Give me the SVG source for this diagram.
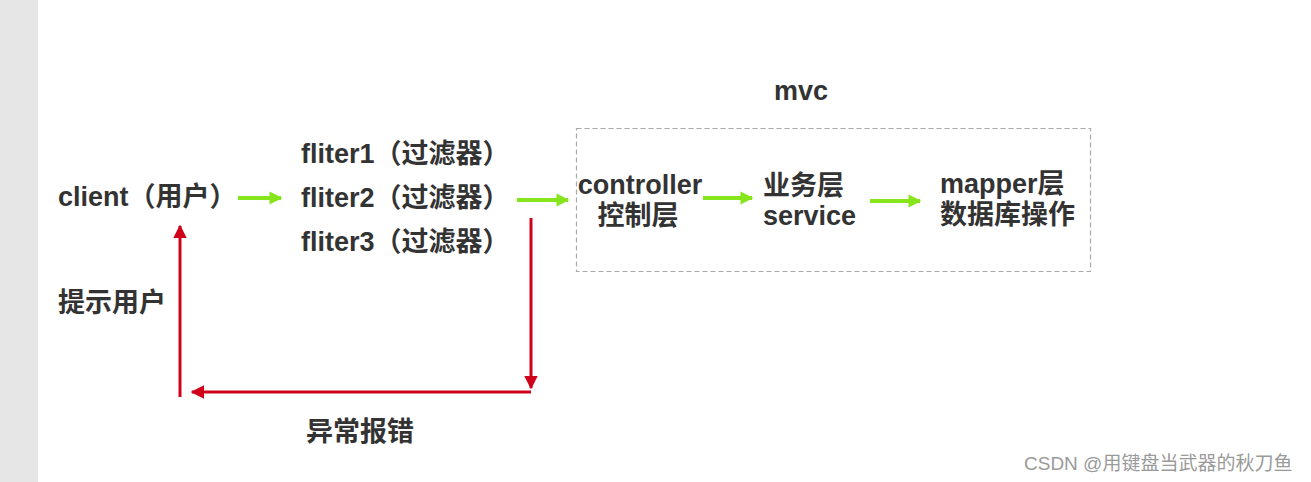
<svg xmlns="http://www.w3.org/2000/svg" width="1311" height="482" viewBox="0 0 1311 482">
<style>
.t{font-family:"Liberation Sans","Noto Sans CJK SC",sans-serif;font-weight:bold;font-size:27px;fill:#333}
.g{stroke:#86e51b;stroke-width:4;fill:none}
.r{stroke:#d0021b;stroke-width:3;fill:none}
.wm{font-family:"Liberation Sans","Noto Sans CJK SC",sans-serif;font-size:19px;fill:#9a9a9a}
</style>
<defs>
<marker id="ga" viewBox="0 0 10 10" refX="9" refY="5" markerWidth="3.2" markerHeight="4" orient="auto" markerUnits="strokeWidth"><path d="M0,0L10,5L0,10z" fill="#86e51b"/></marker>
<marker id="ra" viewBox="0 0 10 10" refX="9" refY="5" markerWidth="4.5" markerHeight="5.5" orient="auto" markerUnits="strokeWidth"><path d="M0,0L10,5L0,10z" fill="#d0021b"/></marker>
</defs>
<rect x="0" y="0" width="1311" height="482" fill="#fff"/>
<rect x="0" y="0" width="38" height="482" fill="#e6e6e6"/>
<g id="mvc-box"><rect x="576.5" y="128.5" width="514" height="143" fill="none" stroke="#aaa" stroke-width="1.2" stroke-dasharray="5,3"/><text class="t" x="801" y="100" text-anchor="middle">mvc</text></g>
<g id="client"><text class="t" x="58" y="206">client（用户）</text></g>
<g id="filters"><text class="t" x="301" y="163">fliter1（过滤器）</text><text class="t" x="301" y="207">fliter2（过滤器）</text><text class="t" x="301" y="251">fliter3（过滤器）</text></g>
<g id="controller"><text class="t" x="640" y="194" text-anchor="middle">controller</text><text class="t" x="638" y="225" text-anchor="middle">控制层</text></g>
<g id="service"><text class="t" x="763" y="195">业务层</text><text class="t" x="763" y="225">service</text></g>
<g id="mapper"><text class="t" x="940" y="193">mapper层</text><text class="t" x="940" y="224">数据库操作</text></g>
<g id="hint"><text class="t" x="58" y="312">提示用户</text></g>
<g id="error"><text class="t" x="306" y="441">异常报错</text></g>
<g id="connectors">
<line class="g" x1="238" y1="198" x2="281" y2="198" marker-end="url(#ga)"/>
<line class="g" x1="517" y1="200" x2="568" y2="200" marker-end="url(#ga)"/>
<line class="g" x1="703" y1="198" x2="752" y2="198" marker-end="url(#ga)"/>
<line class="g" x1="870" y1="201" x2="920" y2="201" marker-end="url(#ga)"/>
<line class="r" x1="531" y1="218" x2="531" y2="388" marker-end="url(#ra)"/>
<line class="r" x1="531" y1="392" x2="192" y2="392" marker-end="url(#ra)"/>
<line class="r" x1="180" y1="397" x2="180" y2="226" marker-end="url(#ra)"/>
</g>
<text class="wm" x="1024" y="470">CSDN @用键盘当武器的秋刀鱼</text>
</svg>
